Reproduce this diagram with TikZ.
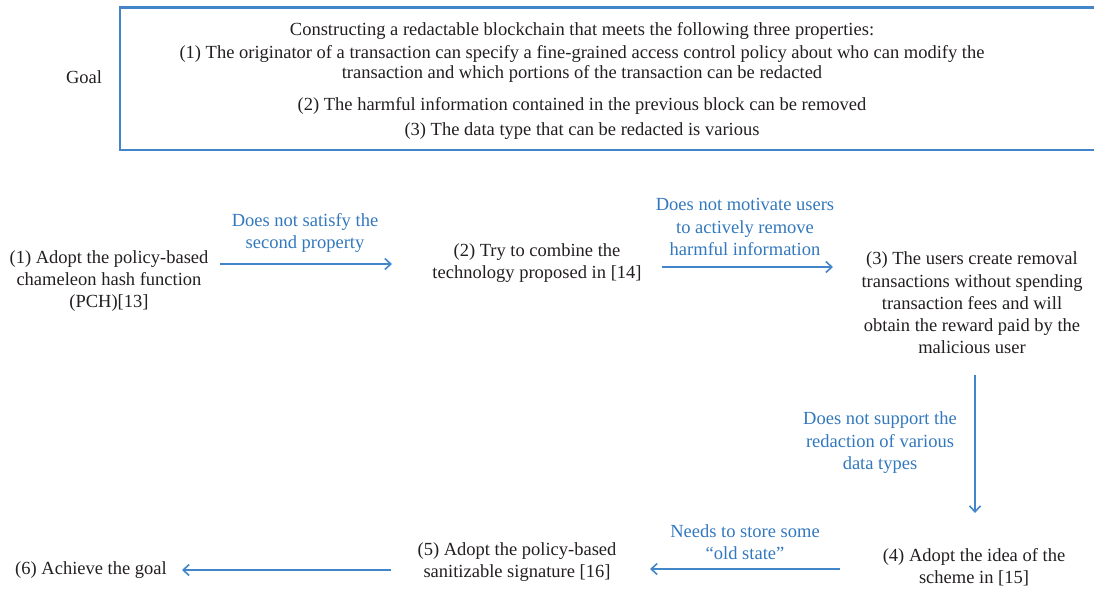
\documentclass[tikz,border=0pt]{standalone}
\usepackage{fontspec}
\setmainfont{Liberation Serif}
\usetikzlibrary{arrows.meta}
\definecolor{myblue}{RGB}{66,133,200}
\definecolor{lblblue}{RGB}{50,120,190}
\definecolor{txt}{RGB}{35,31,32}
\tikzset{
  x=1pt, y=-1pt,
  txtnode/.style={align=center, text=txt, inner sep=0pt, font=\fontsize{18.5}{22.3}\selectfont},
  lbl/.style={align=center, text=lblblue, inner sep=0pt, font=\fontsize{18.5}{22.5}\selectfont},
  arr/.style={draw=myblue, line width=1.8pt, -{Straight Barb[length=6pt,width=11pt,line width=1.6pt]}},
}
\begin{document}
\begin{tikzpicture}
\useasboundingbox (0,0) rectangle (1094,590);
\clip (0,0) rectangle (1094,590);
% goal box
\draw[myblue, line width=2.6pt] (120,7.5) rectangle (1120,150);
\node[txtnode] (goal) at (84,77) {Goal};
\node[txtnode] (g0) at (582,31) {Constructing a redactable blockchain that meets the following three properties:};
\node[txtnode, font=\fontsize{18.5}{20.5}\selectfont] (g1) at (582,64) {(1) The originator of a transaction can specify a fine-grained access control policy about who can modify the\\transaction and which portions of the transaction can be redacted};
\node[txtnode] (g2) at (582,106) {(2) The harmful information contained in the previous block can be removed};
\node[txtnode] (g3) at (582,131) {(3) The data type that can be redacted is various};
% steps
\node[txtnode] (s1) at (109,281) {(1) Adopt the policy-based\\chameleon hash function\\(PCH)[13]};
\node[txtnode] (s2) at (537,263) {(2) Try to combine the\\technology proposed in [14]};
\node[txtnode] (s3) at (972,303) {(3) The users create removal\\transactions without spending\\transaction fees and will\\obtain the reward paid by the\\malicious user};
\node[txtnode] (s4) at (974,567) {(4) Adopt the idea of the\\scheme in [15]};
\node[txtnode] (s5) at (517,562) {(5) Adopt the policy-based\\sanitizable signature [16]};
\node[txtnode] (s6) at (91,570) {(6) Achieve the goal};
% arrow anchor points
\coordinate (a1s) at (220,264); \coordinate (a1e) at (392,264);
\coordinate (a2s) at (662,267); \coordinate (a2e) at (833,267);
\coordinate (a3s) at (975,375); \coordinate (a3e) at (975,513);
\coordinate (a4s) at (840,569); \coordinate (a4e) at (650,569);
\coordinate (a5s) at (391,570); \coordinate (a5e) at (182,570);
\draw[arr] (a1s) -- (a1e);
\draw[arr] (a2s) -- (a2e);
\draw[arr] (a3s) -- (a3e);
\draw[arr] (a4s) -- (a4e);
\draw[arr] (a5s) -- (a5e);
% labels
\node[lbl] (l1) at (305,233) {Does not satisfy the\\second property};
\node[lbl] (l2) at (745,227) {Does not motivate users\\to actively remove\\harmful information};
\node[lbl] (l3) at (880,443) {Does not support the\\redaction of various\\data types};
\node[lbl] (l4) at (745,542) {Needs to store some\\``old state''};
\end{tikzpicture}
\end{document}
